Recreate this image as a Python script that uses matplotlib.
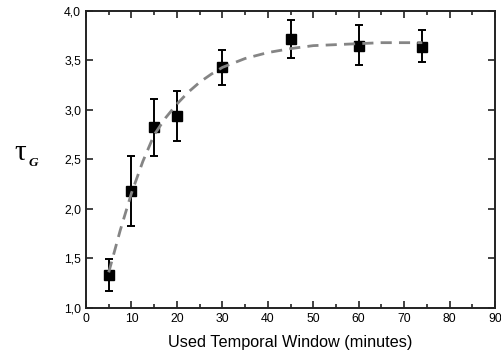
import matplotlib
matplotlib.use("Agg")
import matplotlib.pyplot as plt
from matplotlib.ticker import MultipleLocator, FuncFormatter

# measured points
window = [5, 10, 15, 20, 30, 45, 60, 74]
tau = [1.33, 2.18, 2.83, 2.94, 3.43, 3.72, 3.65, 3.64]
err_up = [0.16, 0.36, 0.28, 0.25, 0.18, 0.19, 0.21, 0.17]
err_dn = [0.16, 0.35, 0.29, 0.25, 0.18, 0.19, 0.20, 0.16]

# fitted curve
fit_x = [5, 7.5, 10, 12.5, 15, 17.5, 20, 22.5, 25, 27.5, 30, 35, 40, 45, 50, 55, 60, 65, 70, 74]
fit_y = [1.36, 1.78, 2.16, 2.48, 2.75, 2.92, 3.06, 3.18, 3.28, 3.36, 3.43, 3.52, 3.58, 3.62,
         3.65, 3.66, 3.67, 3.68, 3.68, 3.68]

plt.rcParams['font.family'] = ['Liberation Sans', 'DejaVu Sans']

fig = plt.figure(figsize=(5.01, 3.58), dpi=100)
ax = fig.add_axes([0.1717, 0.1397, 0.8163, 0.8296])

ax.plot(fit_x, fit_y, color='#858585', lw=2, dashes=(4, 2.6), zorder=3)
ax.errorbar(window, tau, yerr=[err_dn, err_up], fmt='s', color='black', ms=7.5,
            elinewidth=1.4, capsize=3.2, capthick=1.4, zorder=2)

ax.set_xlim(0, 90)
ax.set_ylim(1.0, 4.0)
ax.xaxis.set_major_locator(MultipleLocator(10))
ax.xaxis.set_minor_locator(MultipleLocator(5))
ax.yaxis.set_major_locator(MultipleLocator(0.5))
ax.yaxis.set_major_formatter(FuncFormatter(lambda v, p: f"{v:.1f}".replace('.', ',')))
ax.tick_params(which='both', direction='in', top=True, right=True, labelsize=8.8,
               width=1.2, colors='#222222', labelcolor='black')
ax.tick_params(which='major', length=5)
ax.tick_params(which='minor', length=3)
for s in ax.spines.values():
    s.set_linewidth(1.4)
    s.set_color('#222222')

ax.set_xlabel("Used Temporal Window (minutes)", fontsize=11.7, labelpad=7)

fig.text(0.028, 0.553, "τ", fontsize=21, family='Liberation Serif', va='baseline')
fig.text(0.056, 0.537, "G", fontsize=9.5, family='Liberation Serif', style='italic',
         weight='bold', va='baseline')

fig.savefig("out.png", dpi=100)
